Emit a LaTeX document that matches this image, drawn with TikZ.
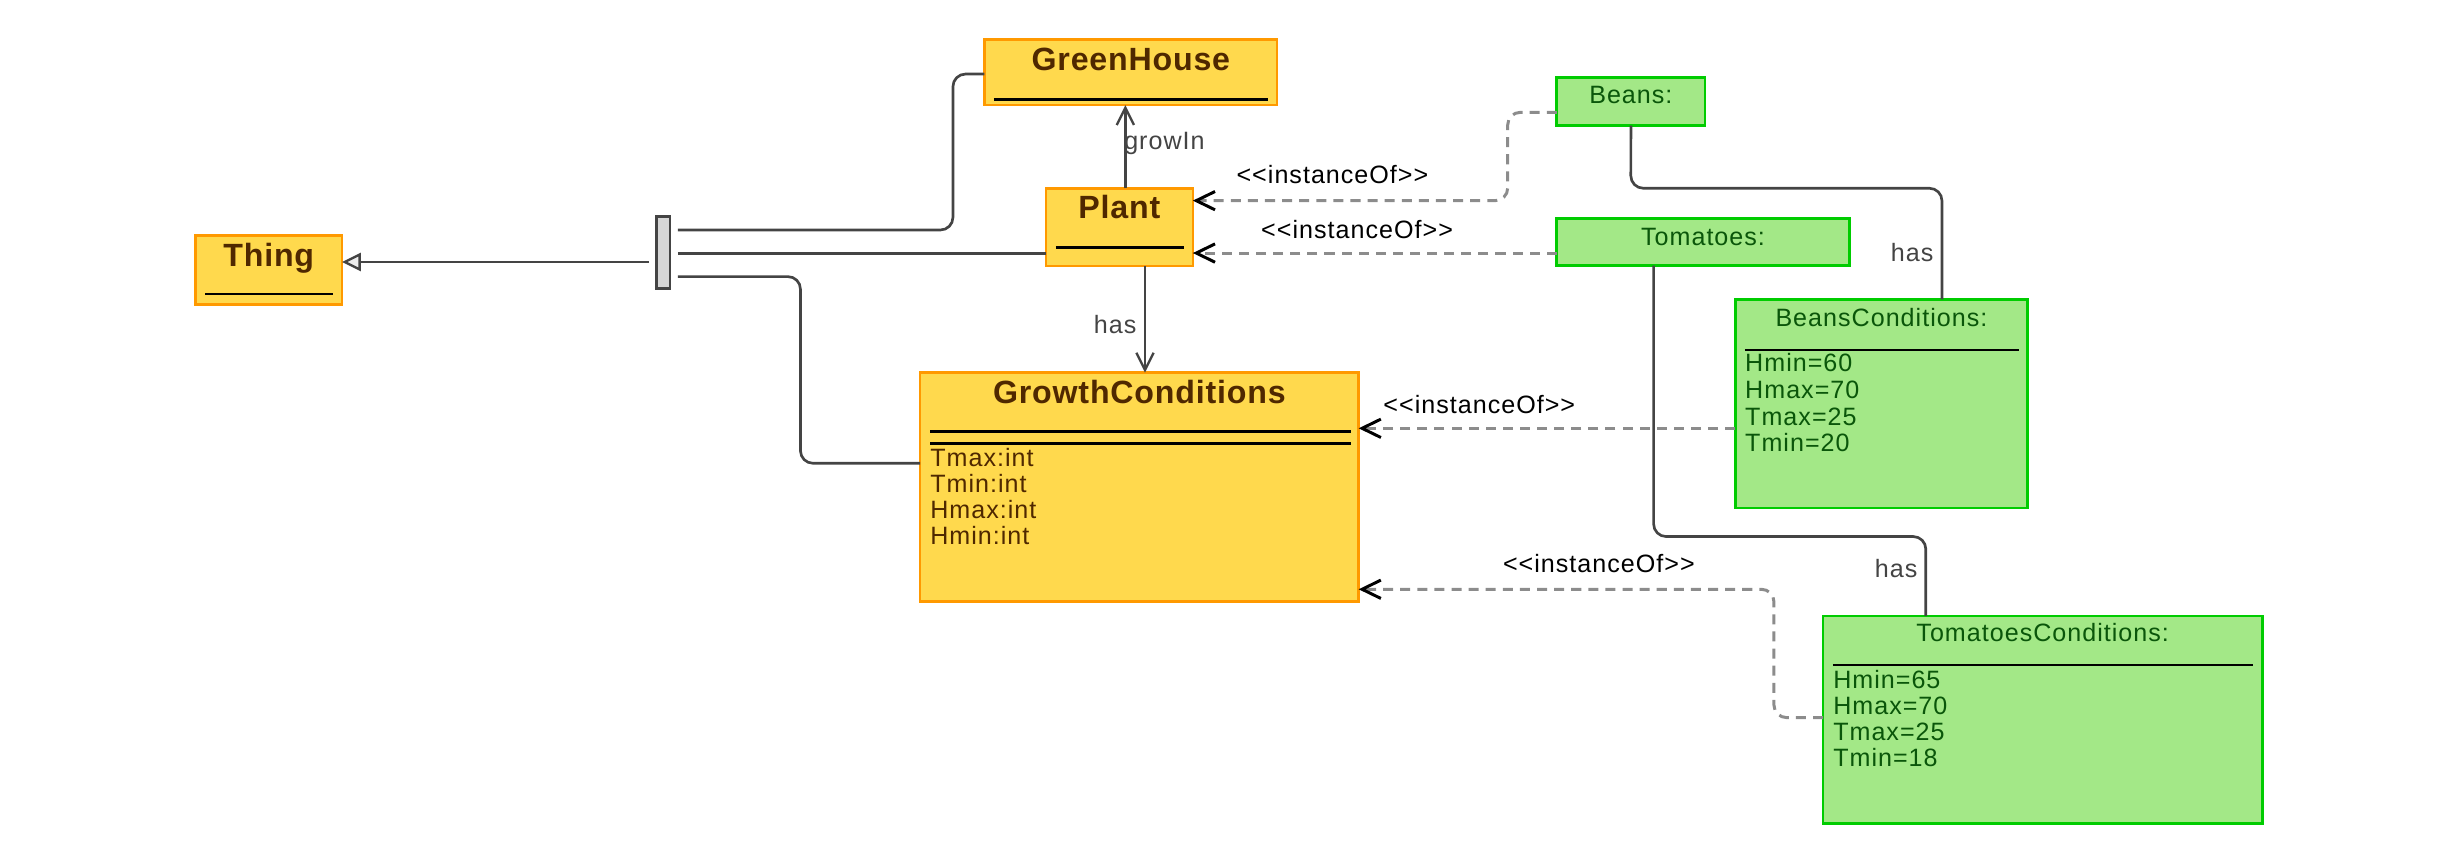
\documentclass[tikz,border=0pt]{standalone}
\usepackage{fontspec}
\setmainfont{Liberation Sans}
\newfontfamily\lab{Liberation Sans}[LetterSpace=4,Ligatures=TeXOff]
\newfontfamily\ttl{Liberation Sans}[LetterSpace=2.5,Ligatures=TeXOff]
\usetikzlibrary{arrows.meta}
\definecolor{yfill}{HTML}{FFD94D}
\definecolor{yline}{HTML}{FF9900}
\definecolor{ytext}{HTML}{4F2800}
\definecolor{gfill}{HTML}{A3E887}
\definecolor{gline}{HTML}{00CC00}
\definecolor{gtext}{HTML}{0A560A}
\definecolor{lcol}{HTML}{444444}
\definecolor{dcol}{HTML}{8C8C8C}
\begin{document}
\begin{tikzpicture}[x=1pt,y=-1pt,
  ybox/.style={draw=yline, fill=yfill, line width=1.7pt, anchor=north west, inner sep=0pt, outer sep=0pt},
  gbox/.style={draw=gline, fill=gfill, line width=1.7pt, anchor=north west, inner sep=0pt, outer sep=0pt},
  ytitle/.style={anchor=base, inner sep=0pt, text=ytext, font=\ttl\bfseries\fontsize{20.5}{24}\selectfont},
  yattr/.style={anchor=base west, inner sep=0pt, text=ytext, font=\lab\fontsize{16}{17}\selectfont},
  gtitle/.style={anchor=base, inner sep=0pt, text=gtext, font=\lab\fontsize{16}{17}\selectfont},
  gattr/.style={anchor=base west, inner sep=0pt, text=gtext, font=\lab\fontsize{16}{17}\selectfont},
  sepline/.style={line width=1.7pt, draw=black},
  conn/.style={draw=lcol, line width=1.7pt, rounded corners=8pt},
  assoc/.style={conn, -{Straight Barb[length=11pt,width=11pt,line width=1.5pt]}},
  gen/.style={conn, -{Triangle[length=12pt,width=11.6pt,fill=black!7,line width=1.5pt]}},
  inst/.style={draw=dcol, line width=1.9pt, dash pattern=on 6.4pt off 4.5pt, rounded corners=8pt,
    -{Straight Barb[length=12pt,width=11.7pt,line width=1.9pt,black]}},
  ilbl/.style={anchor=base west, inner sep=0pt, text=black, font=\lab\fontsize{16}{17}\selectfont},
  hlbl/.style={anchor=base west, inner sep=0pt, text=lcol, font=\lab\fontsize{16}{17}\selectfont},
  genbar/.style={draw=lcol, fill=black!16, line width=1.5pt, anchor=north west, inner sep=0pt, outer sep=0pt}
]
\useasboundingbox (0,0) rectangle (1568,553);

% ---- boxes ----
\node[ybox, minimum width=93.4pt, minimum height=44pt] (thing) at (124.6,150) {};
\node[ybox, minimum width=186.5pt, minimum height=42pt] (gh) at (627.5,25) {};
\node[ybox, minimum width=93.5pt, minimum height=49.5pt] (plant) at (666.8,120) {};
\node[ybox, minimum width=279.6pt, minimum height=146pt] (gc) at (586.4,237.5) {};
\node[gbox, minimum width=94.5pt, minimum height=30.7pt] (beans) at (992.3,49.4) {};
\node[gbox, minimum width=186.5pt, minimum height=30.1pt] (tom) at (992.3,139.2) {};
\node[gbox, minimum width=186.5pt, minimum height=133pt] (bc) at (1106,190.8) {};
\node[gbox, minimum width=280pt, minimum height=132.2pt] (tc) at (1162,392.6) {};
\node[genbar, minimum width=8.5pt, minimum height=46pt] (bar) at (418.5,138) {};

% ---- titles ----
\node[ytitle] (thingT) at (171.3,170) {Thing};
\node[ytitle] (ghT) at (720.8,45) {GreenHouse};
\node[ytitle] (plantT) at (713.5,139.2) {Plant};
\node[ytitle] (gcT) at (726.2,257) {GrowthConditions};
\node[gtitle] (beansT) at (1039.5,65.9) {Beans:};
\node[gtitle] (tomT) at (1085.5,156.2) {Tomatoes:};
\node[gtitle] (bcT) at (1199.2,208) {BeansConditions:};
\node[gtitle] (tcT) at (1302,409) {TomatoesConditions:};

% ---- separators ----
\draw[sepline] (130.7,187.4) -- (212.5,187.4);
\draw[sepline] (633.5,63.3) -- (808.5,63.3);
\draw[sepline] (673,157.9) -- (754.6,157.9);
\draw[sepline] (592.8,275) -- (860.8,275);
\draw[sepline] (592.8,282.6) -- (860.8,282.6);
\draw[sepline] (1112.2,223) -- (1286.7,223);
\draw[sepline] (1168.3,423.8) -- (1436,423.8);

% ---- attributes ----
\node[yattr] (gcA1) at (592.8,297.4) {Tmax:int};
\node[yattr] (gcA2) at (592.8,314) {Tmin:int};
\node[yattr] (gcA3) at (592.8,330.6) {Hmax:int};
\node[yattr] (gcA4) at (592.8,347.2) {Hmin:int};
\node[gattr] (bcA1) at (1112.2,237) {Hmin=60};
\node[gattr] (bcA2) at (1112.2,254) {Hmax=70};
\node[gattr] (bcA3) at (1112.2,271) {Tmax=25};
\node[gattr] (bcA4) at (1112.2,288) {Tmin=20};
\node[gattr] (tcA1) at (1168.3,438.7) {Hmin=65};
\node[gattr] (tcA2) at (1168.3,455.3) {Hmax=70};
\node[gattr] (tcA3) at (1168.3,472) {Tmax=25};
\node[gattr] (tcA4) at (1168.3,488.6) {Tmin=18};

% ---- generalization ----
\draw[gen] ([xshift=-4.7pt]bar.west |- 0,167) -- (thing.east |- 0,167);
\draw[conn] ([xshift=5pt]bar.east |- 0,146.6) -- (607.4,146.6) -- (607.4,47.2) -- (gh.west |- 0,47.2);
\draw[conn] ([xshift=5pt]bar.east |- 0,161.5) -- (plant.west |- 0,161.5);
\draw[conn] ([xshift=5pt]bar.east |- 0,176.3) -- (510.2,176.3) -- (510.2,295.3) -- (gc.west |- 0,295.3);

% ---- associations ----
\draw[assoc] (plant.north -| 717.3,0) -- (gh.south -| 717.3,0);
\node[hlbl] (lGrow) at (716.4,95.6) {growIn};
\draw[assoc] (plant.south -| 729.8,0) -- (gc.north -| 729.8,0);
\node[hlbl] (lHas1) at (697,212.3) {has};
\draw[conn] (beans.south) -- (1039.45,120) -- (1237.8,120) -- (bc.north -| 1237.8,0);
\node[hlbl] (lHas2) at (1205,166.8) {has};
\draw[conn] (tom.south -| 1054,0) -- (1054,342) -- (1227.5,342) -- (tc.north -| 1227.5,0);
\node[hlbl] (lHas3) at (1194.8,368) {has};

% ---- instanceOf ----
\draw[inst] (beans.west |- 0,71.6) -- (961,71.6) -- (961,127.9) -- (plant.east |- 0,127.9);
\node[ilbl] (lI1) at (788,116.8) {<<instanceOf>>};
\draw[inst] (tom.west |- 0,161.3) -- (plant.east |- 0,161.3);
\node[ilbl] (lI2) at (803.7,151.9) {<<instanceOf>>};
\draw[inst] (bc.west |- 0,273) -- (gc.east |- 0,273);
\node[ilbl] (lI3) at (881.6,263.4) {<<instanceOf>>};
\draw[inst] (tc.west |- 0,457.4) -- (1130.7,457.4) -- (1130.7,375.6) -- (gc.east |- 0,375.6);
\node[ilbl] (lI4) at (957.8,365) {<<instanceOf>>};
\end{tikzpicture}
\end{document}
